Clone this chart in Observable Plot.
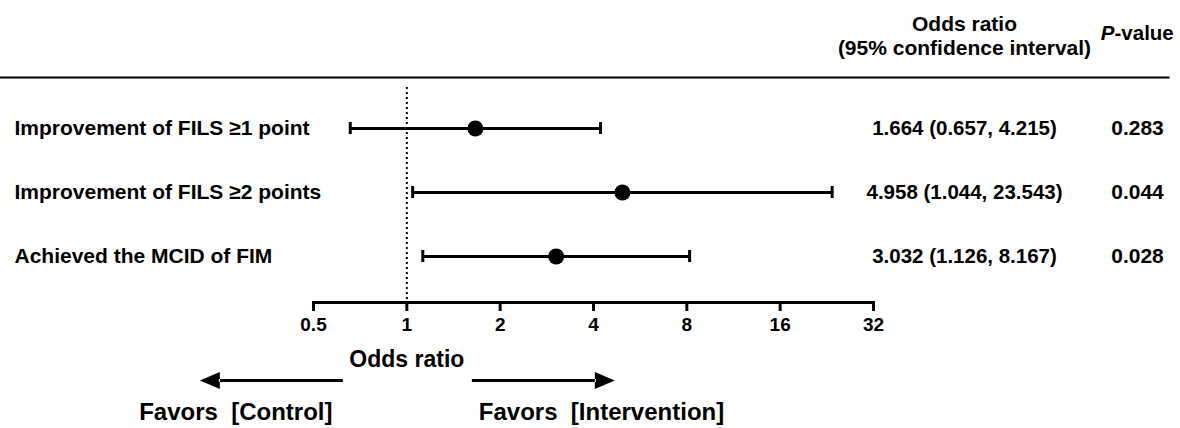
<!DOCTYPE html>
<html>
<head>
<meta charset="utf-8">
<script src="https://cdn.jsdelivr.net/npm/d3@7"></script>
<script src="https://cdn.jsdelivr.net/npm/@observablehq/plot@0.6"></script>
<style>
  html, body { margin: 0; padding: 0; background: #ffffff; }
  #chart svg { display: block; }
</style>
</head>
<body>
<div id="chart"></div>
<script>
// ---- data ----
const outcomes = [
  "Improvement of FILS \u22651 point",
  "Improvement of FILS \u22652 points",
  "Achieved the MCID of FIM"
];
const oddsRatios = [1.664, 4.958, 3.032];
const ciLower = [0.657, 1.044, 1.126];
const ciUpper = [4.215, 23.543, 8.167];
const pValues = [0.283, 0.044, 0.028];
const xTicks = [0.5, 1, 2, 4, 8, 16, 32];
const nullValue = 1;
const axisTitle = "Odds ratio";
const headerOR = "Odds ratio\n(95% confidence interval)";
const headerPItalic = "P";
const headerPRest = "-value";
const favorsControl = "Favors\u00a0 [Control]";
const favorsIntervention = "Favors\u00a0 [Intervention]";

// ---- table built from the arrays ----
const rows = outcomes.map((name, i) => ({
  name,
  or: oddsRatios[i],
  lo: ciLower[i],
  hi: ciUpper[i],
  p: pValues[i],
  ci: `${oddsRatios[i].toFixed(3)} (${ciLower[i].toFixed(3)}, ${ciUpper[i].toFixed(3)})`
}));

// filled arrow (shaft + triangular head), tip at origin pointing right
const arrowSymbol = {
  draw(ctx) {
    ctx.moveTo(0, 0);
    ctx.lineTo(-20, -8.5);
    ctx.lineTo(-20, 8.5);
    ctx.closePath();
    ctx.moveTo(-19, -1.5);
    ctx.lineTo(-19, 1.5);
    ctx.lineTo(-143, 1.5);
    ctx.lineTo(-143, -1.5);
    ctx.closePath();
  }
};

const font = "'Liberation Sans', Arial, Helvetica, sans-serif";

const chart = Plot.plot({
  width: 1180,
  height: 428,
  marginLeft: 313,
  marginRight: 307,
  marginTop: 77,
  marginBottom: 126,
  style: { fontFamily: font, fontWeight: "bold", fontSize: "19px", background: "#ffffff", color: "#000000" },
  x: { type: "log", base: 2, domain: [xTicks[0], xTicks[xTicks.length - 1]] },
  y: { type: "band", domain: outcomes, range: [92, 292], axis: null },
  marks: [
    // header rule across the full width
    Plot.frame({ anchor: "top", insetLeft: -313, insetRight: -295, stroke: "#000", strokeWidth: 2 }),
    // x axis line
    Plot.frame({ anchor: "bottom", stroke: "#000", strokeWidth: 3 }),
    Plot.axisX({
      ticks: xTicks,
      tickFormat: d => String(d),
      tickSize: 9,
      tickPadding: 6,
      strokeWidth: 3,
      fontSize: 19,
      fontWeight: "bold",
      label: null
    }),
    // line of no effect
    Plot.ruleX([nullValue], { stroke: "#000", strokeWidth: 2, strokeDasharray: "2,3", insetTop: 10 }),
    // confidence intervals
    Plot.ruleY(rows, { y: "name", x1: "lo", x2: "hi", stroke: "#000", strokeWidth: 3 }),
    Plot.tickX(rows, { x: "lo", y: "name", stroke: "#000", strokeWidth: 3, insetTop: 23, insetBottom: 23 }),
    Plot.tickX(rows, { x: "hi", y: "name", stroke: "#000", strokeWidth: 3, insetTop: 23, insetBottom: 23 }),
    Plot.dot(rows, { x: "or", y: "name", r: 8, fill: "#000", stroke: "none" }),
    // row labels
    Plot.text(rows, { y: "name", text: "name", frameAnchor: "left", textAnchor: "start", lineAnchor: "middle", dx: -299, fontSize: 21, fill: "#000" }),
    // OR (95% CI) column
    Plot.text(rows, { y: "name", text: "ci", frameAnchor: "right", textAnchor: "middle", lineAnchor: "middle", dx: 91, fontSize: 20.5, fill: "#000" }),
    // P-value column
    Plot.text(rows, { y: "name", text: d => d.p.toFixed(3), frameAnchor: "right", textAnchor: "middle", lineAnchor: "middle", dx: 264, fontSize: 21, fill: "#000" }),
    // headers
    Plot.text([headerOR], { text: d => d, frameAnchor: "top-right", textAnchor: "middle", lineAnchor: "middle", dx: 91, dy: -42, lineHeight: 1.15, fontSize: 21, fill: "#000" }),
    Plot.text([headerPItalic], { text: d => d, frameAnchor: "top-right", textAnchor: "end", lineAnchor: "middle", dx: 241, dy: -44, fontSize: 20.5, fontStyle: "italic", fill: "#000" }),
    Plot.text([headerPRest], { text: d => d, frameAnchor: "top-right", textAnchor: "start", lineAnchor: "middle", dx: 241, dy: -44, fontSize: 20.5, fill: "#000" }),
    // axis title and direction arrows
    Plot.text([axisTitle], { x: () => nullValue, text: d => d, frameAnchor: "bottom", lineAnchor: "middle", dy: 57, fontSize: 23, fill: "#000" }),
    Plot.dot([favorsControl], { x: () => nullValue, frameAnchor: "bottom", dy: 78, dx: -207, symbol: arrowSymbol, rotate: 180, r: 5, fill: "#000", stroke: "none" }),
    Plot.dot([favorsIntervention], { x: () => nullValue, frameAnchor: "bottom", dy: 78, dx: 208, symbol: arrowSymbol, r: 5, fill: "#000", stroke: "none" }),
    Plot.text([favorsControl], { x: () => nullValue, text: d => d, frameAnchor: "bottom", textAnchor: "middle", lineAnchor: "middle", dy: 110, dx: -171, fontSize: 24, fill: "#000" }),
    Plot.text([favorsIntervention], { x: () => nullValue, text: d => d, frameAnchor: "bottom", textAnchor: "start", lineAnchor: "middle", dy: 110, dx: 72, fontSize: 24, fill: "#000" })
  ]
});

document.getElementById("chart").appendChild(chart);
</script>
</body>
</html>
